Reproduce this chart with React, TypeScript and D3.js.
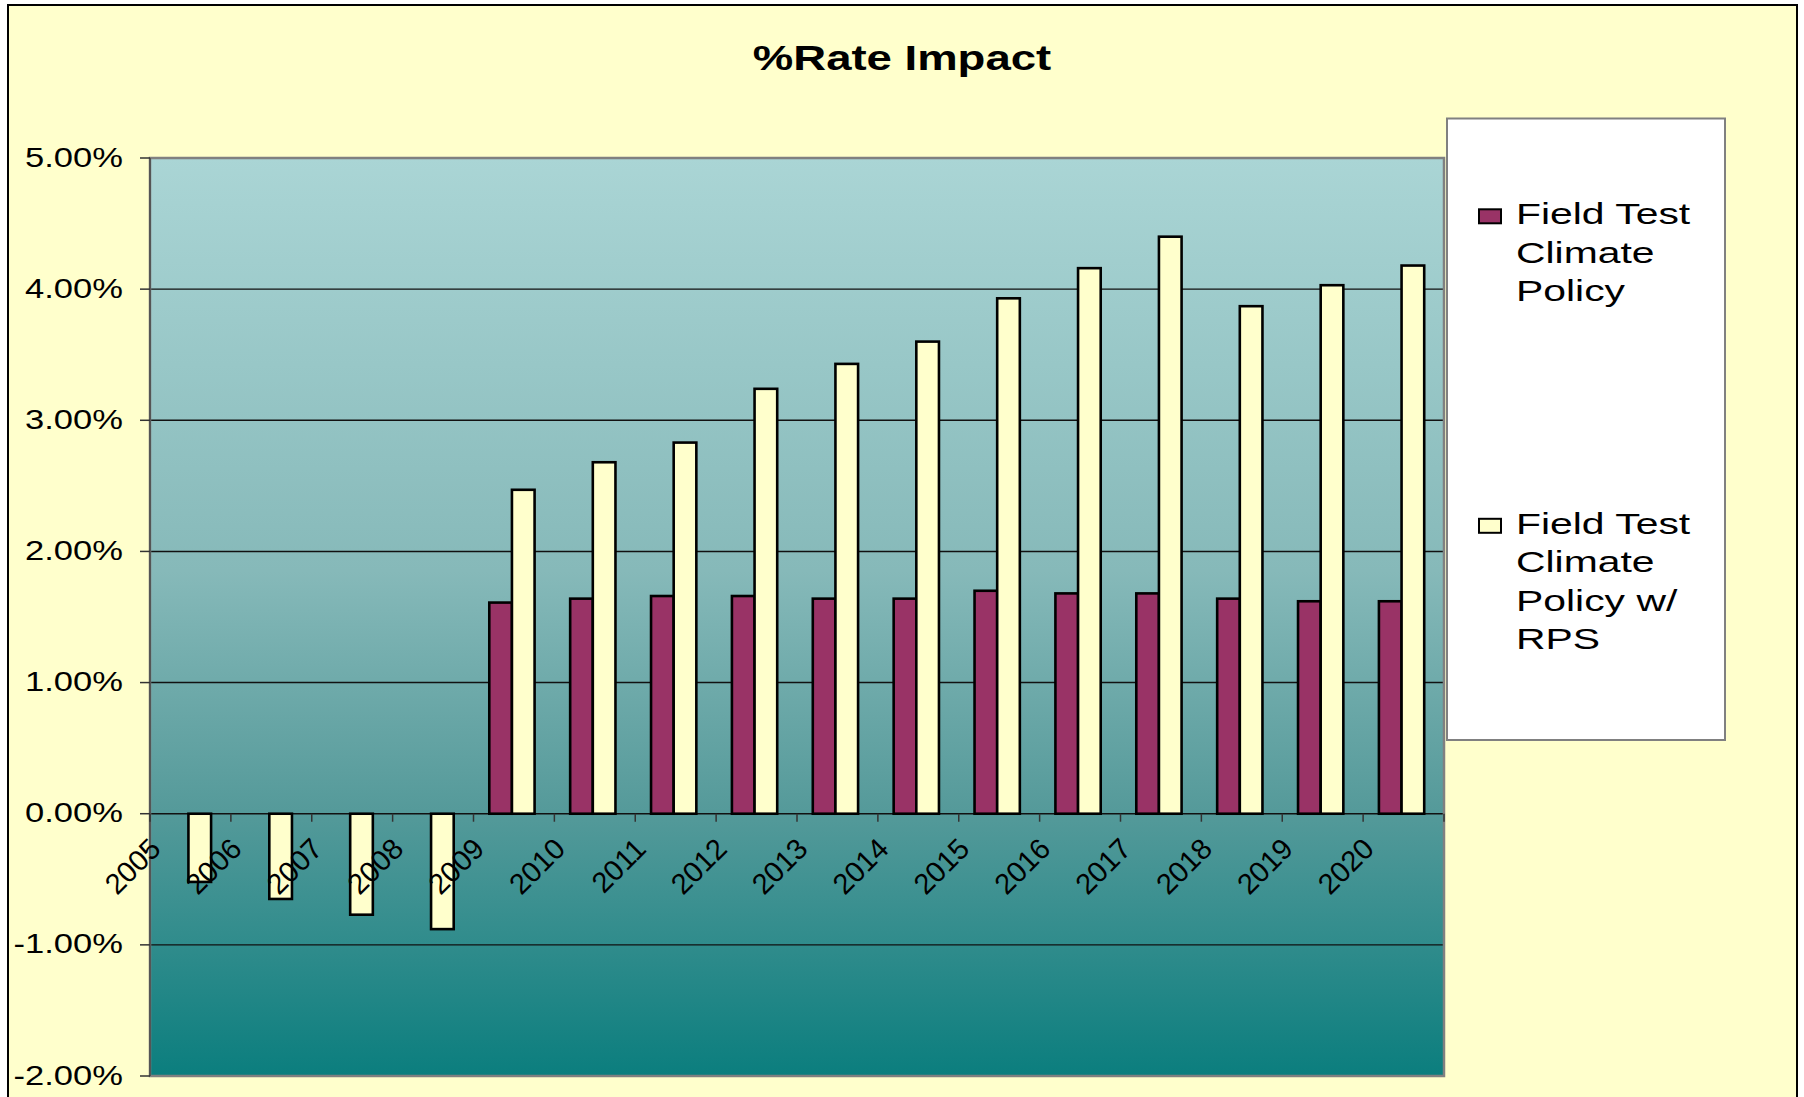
import React from 'react';
import * as d3 from 'd3';

const years = ['2005','2006','2007','2008','2009','2010','2011','2012','2013','2014','2015','2016','2017','2018','2019','2020'];
const fieldTest: (number | null)[] = [null, null, null, null, 1.61, 1.64, 1.66, 1.66, 1.64, 1.64, 1.70, 1.68, 1.68, 1.64, 1.62, 1.62];
const fieldTestRPS: number[] = [-0.52, -0.65, -0.77, -0.88, 2.47, 2.68, 2.83, 3.24, 3.43, 3.60, 3.93, 4.16, 4.40, 3.87, 4.03, 4.18];
const yTicks = [-2, -1, 0, 1, 2, 3, 4, 5];
const seriesNames = ['Field Test Climate Policy', 'Field Test Climate Policy w/ RPS'];
const legendLines = [['Field Test', 'Climate', 'Policy'], ['Field Test', 'Climate', 'Policy w/', 'RPS']];
const seriesColors = ['#993366', '#FFFFCC'];

const W = 1804, H = 1097;
const PL = 150, PR = 1444, PT = 158, PB = 1076;
const FONT = '"Liberation Sans", Arial, Helvetica, sans-serif';

export default function App() {
  const x = d3.scaleBand<string>().domain(years).range([PL, PR]).paddingInner(0).paddingOuter(0);
  const bw = x.bandwidth();
  const groupW = bw * 0.56;
  const xSub = d3.scaleBand<string>().domain(['a', 'b']).range([0, groupW]);
  const y = d3.scaleLinear().domain([-2, 5]).range([PB, PT]);
  const fmt = (v: number) => d3.format('.2f')(v).replace('\u2212', '-') + '%';

  const bars: JSX.Element[] = [];
  years.forEach((yr, i) => {
    const gx = (x(yr) as number) + (bw - groupW) / 2 - 2;
    const vals = [fieldTest[i], fieldTestRPS[i]];
    vals.forEach((v, s) => {
      if (v === null || v === undefined) return;
      const bx = gx + (xSub(s === 0 ? 'a' : 'b') as number);
      const y0 = y(0), y1 = y(v);
      bars.push(
        <rect key={`b${i}-${s}`} x={bx} y={Math.min(y0, y1)} width={xSub.bandwidth()} height={Math.abs(y1 - y0)}
          fill={seriesColors[s]} stroke="#000" strokeWidth={2.6} />
      );
    });
  });

  const boundaries = d3.range(years.length + 1).map(i => PL + i * bw);

  return (
    <svg width={W} height={H} style={{ position: 'absolute', left: 0, top: 0 }} xmlns="http://www.w3.org/2000/svg">
      <defs>
        <linearGradient id="plotGrad" x1="0" y1="0" x2="0" y2="1">
          <stop offset="0" stopColor="#AAD5D5" />
          <stop offset="0.45" stopColor="#86B9B9" />
          <stop offset="0.71" stopColor="#559A9A" />
          <stop offset="1" stopColor="#0B7E7E" />
        </linearGradient>
      </defs>
      <rect x={0} y={0} width={W} height={H} fill="#FFFFFF" />
      <rect x={8} y={5} width={1789} height={H + 20} fill="#FFFFCC" stroke="#000" strokeWidth={2} />

      <text x={902} y={70.5} textAnchor="middle" fontFamily={FONT} fontWeight="bold" fontSize={35}
        transform="translate(902,0) scale(1.3,1) translate(-902,0)">%Rate Impact</text>

      <rect x={PL} y={PT} width={PR - PL} height={PB - PT} fill="url(#plotGrad)" />

      {yTicks.filter(v => v > -2 && v < 5).map(v => (
        <line key={`g${v}`} x1={PL} x2={PR} y1={y(v)} y2={y(v)} stroke="#111" strokeWidth={1.4} />
      ))}

      <rect x={PL} y={PT} width={PR - PL} height={PB - PT} fill="none" stroke="#808080" strokeWidth={2.5} />
      <line x1={PL} x2={PL} y1={PT} y2={PB} stroke="#555" strokeWidth={2} />

      {yTicks.map(v => (
        <g key={`yt${v}`}>
          <line x1={140} x2={PL} y1={y(v)} y2={y(v)} stroke="#333" strokeWidth={1.5} />
          <g transform={`translate(123,${y(v) + 8.5}) scale(1.28,1)`}>
            <text x={0} y={0} textAnchor="end" fontFamily={FONT} fontSize={27} fill="#000">{fmt(v)}</text>
          </g>
        </g>
      ))}

      {boundaries.map((bx, i) => (
        <line key={`xt${i}`} x1={bx} x2={bx} y1={y(0)} y2={y(0) + 8} stroke="#333" strokeWidth={1.5} />
      ))}

      {bars}

      {years.map((yr) => {
        const px = (x(yr) as number) + 12.5;
        const py = 850.5;
        return (
          <text key={`xl${yr}`} x={px} y={py} textAnchor="end" fontFamily={FONT} fontSize={29}
            transform={`rotate(-45,${px},${py})`} fill="#000">{yr}</text>
        );
      })}

      <rect x={1447} y={118.5} width={278} height={621.5} fill="#FFFFFF" stroke="#808080" strokeWidth={2} />
      {seriesNames.map((name, s) => {
        const base = s === 0 ? 224.3 : 533.8;
        return (
          <g key={`lg${s}`}>
            <title>{name}</title>
            <rect x={1479} y={base - 15} width={22} height={14} fill={seriesColors[s]} stroke="#000" strokeWidth={2} />
            {legendLines[s].map((ln, j) => (
              <g key={`ll${j}`} transform={`translate(1516,${base + j * 38.5}) scale(1.41,1)`}>
                <text x={0} y={0} fontFamily={FONT} fontSize={29} fill="#000">{ln}</text>
              </g>
            ))}
          </g>
        );
      })}
    </svg>
  );
}
